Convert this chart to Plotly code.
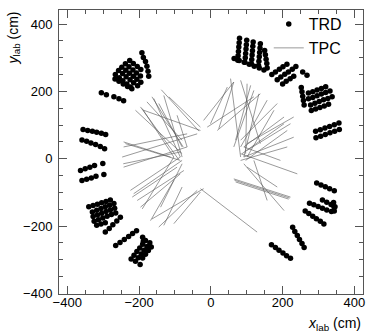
import plotly.graph_objects as go

# TRD hits (cm), grouped by cluster
trd_x = [
    # upper left
    -305, -291, -270, -256, -243,
    -266, -255, -245, -234, -224,
    -257, -246, -236, -225, -215, -204,
    -248, -237, -227, -216, -206, -195,
    -238, -228, -217, -207, -196,
    -226, -216, -205, -195,
    -267, -256, -244, -232, -220,
    -192, -188, -182, -178, -175, -173,
    # left
    -356, -343, -330, -318, -305, -293,
    -359, -346, -334, -321, -308, -296,
    -363, -350, -337, -324, -301,
    -359, -346, -333, -320, -298,
    # lower left
    -340, -328, -316, -304, -292, -280,
    -330, -318, -306, -294, -282, -270,
    -328, -316, -304, -292, -280, -268,
    -325, -313, -301, -289, -277, -265,
    -318, -306, -294,
    -294, -283, -273, -262, -252,
    -265, -253, -241, -229, -218, -207,
    -222, -214, -206, -198, -190, -182,
    -210, -202, -194, -186, -178, -170,
    -190, -182, -174, -166,
    -190, -188, -197,
    # upper right
    80, 79, 78, 77, 76, 75,
    100, 99, 98, 97, 96, 95,
    118, 117, 116, 115, 114, 113,
    138, 137, 136, 135, 134, 133,
    150, 152, 154, 156, 157,
    65, 79, 93, 107, 121, 135, 148,
    170, 180, 191, 201, 212,
    185, 195, 206, 216, 227, 237,
    200, 210, 221, 231,
    256, 268,
    # right
    252, 254, 256, 258, 260,
    272, 284, 296, 308, 320,
    272, 284, 296, 308, 320, 332,
    278, 290, 302, 314, 326, 338,
    280, 292, 304, 316, 328,
    292, 305, 318, 331, 344, 357,
    293, 306, 319, 332, 345, 358,
    # lower right
    295, 307, 319, 331, 344,
    275, 287, 299, 311, 323, 336,
    311, 323, 335, 346,
    342, 343, 344,
    263, 273, 284, 294, 305, 315,
    228, 234, 241, 247, 254, 260,
    169, 180, 190, 201, 211, 222,
]
trd_y = [
    196, 190, 184, 178, 172,
    250, 241, 232, 222, 213,
    262, 253, 244, 235, 226, 217,
    272, 263, 254, 245, 236, 227,
    282, 273, 264, 255, 246,
    292, 283, 274, 265,
    237, 230, 222, 215, 208,
    315, 301, 289, 275, 260, 245,
    87, 84, 82, 79, 76, 72,
    56, 52, 47, 42, 36, 30,
    -35, -30, -25, -20, -14,
    -65, -61, -57, -52, -47,
    -143, -139, -135, -131, -127, -123,
    -158, -153, -148, -143, -138, -133,
    -172, -167, -162, -157, -152, -147,
    -186, -181, -176, -171, -166, -161,
    -198, -194, -190,
    -218, -207, -196, -185, -174,
    -258, -249, -240, -231, -222, -214,
    -298, -287, -276, -265, -254, -243,
    -305, -294, -283, -272, -261, -250,
    -295, -284, -273, -262,
    -233, -245, -314,
    358, 345, 332, 319, 306, 293,
    352, 339, 326, 313, 300, 287,
    347, 334, 321, 308, 295, 282,
    342, 329, 316, 303, 290, 277,
    322, 309, 296, 283, 270,
    298, 292, 287, 281, 275, 270, 264,
    250, 258, 266, 273, 281,
    235, 243, 251, 258, 266, 274,
    222, 230, 238, 245,
    258, 248,
    212, 199, 186, 173, 160,
    195, 199, 204, 209, 214,
    178, 182, 187, 192, 197, 201,
    160, 165, 170, 175, 179, 184,
    143, 148, 152, 157, 162,
    82, 86, 91, 96, 101, 106,
    62, 67, 72, 77, 82, 87,
    -72, -78, -83, -89, -95,
    -132, -137, -142, -147, -152, -157,
    -123, -129, -136, -143,
    -130, -143, -155,
    -155, -163, -171, -178, -186, -194,
    -204, -216, -228, -240, -252, -264,
    -256, -264, -272, -280, -288, -296,
]

# TPC track segments: start and end points (cm)
tpc_x0 = [-138, -164, -159, -196, -191, -178, -187, -131, -210, -117, -94, -145,
          -243, -247, -243, -238, -244, -224, -215, -219, -205, -196, -168, -164,
          -145, -131, -103, -191, -140, 55, 64, 101, 111, 83, 46, -20, 120, 134,
          157, 185, 176, 204, 204, 213, 18, -10, 83, 92, 101, 83, 101, 92, 64,
          66, 69, 92, 101, 120, -29, -243]
tpc_y0 = [205, 184, 179, 154, 149, 169, 144, 188, 144, 184, 129, 164,
          50, 5, -25, 45, -15, -94, -104, -114, -124, -144, -184, -179,
          -203, -198, -193, -149, -144, 238, 228, 223, 218, 233, 213, 114, 203, 193,
          174, 164, 144, 124, 104, 84, 84, 94, 15, 5, 25, -5, 45, 35, -60,
          -64, -69, -15, -25, -5, -89, 35]
tpc_x1 = [-33, -77, -85, -89, -103, -80, -29, -80, -80, -29, -66, -80,
          -112, -38, -66, -85, -85, -85, -80, -94, -75, -85, -103, -20,
          -38, -80, -29, -103, -80, 83, 22, 97, 69, 138, -1, 64, 64, 92,
          83, 83, 101, 92, 87, 97, 138, 120, 241, 231, 222, 213, 231, 194, 222,
          220, 217, 204, 185, 157, 129, -66]
tpc_y1 = [82, 35, 5, -3, 5, 55, 84, 5, 15, 94, 35, 35,
          5, 74, 35, -5, 20, 5, -5, -25, -35, -45, -64, -89,
          -94, -84, -99, 5, -15, 5, 89, 15, 55, 45, 104, 228, 35, 5,
          35, 55, 5, 35, 15, -5, 193, 184, -45, 64, 104, 35, 124, -5, -114,
          -117, -120, -154, -84, -124, -218, 74]

seg_x, seg_y = [], []
for a, b, c, d in zip(tpc_x0, tpc_y0, tpc_x1, tpc_y1):
    seg_x += [a, c, None]
    seg_y += [b, d, None]

fig = go.Figure()
fig.add_trace(go.Scatter(x=trd_x, y=trd_y, mode='markers', name='TRD',
                         marker=dict(color='black', size=5.5)))
fig.add_trace(go.Scatter(x=seg_x, y=seg_y, mode='lines', name='TPC',
                         line=dict(color='#555555', width=0.6)))

axis = dict(showgrid=False, zeroline=False, showline=True, mirror='ticks',
            linecolor='#555555', linewidth=1, ticks='inside', ticklen=8,
            tickcolor='#555555', dtick=200, automargin=False,
            minor=dict(ticks='inside', ticklen=4, dtick=50, tickcolor='#555555'),
            tickfont=dict(size=13, color='black'))

fig.update_layout(
    width=374, height=336,
    margin=dict(l=59, r=11, t=10, b=42, autoexpand=False),
    plot_bgcolor='white', paper_bgcolor='white',
    font=dict(family='Liberation Sans, Arial, sans-serif', color='black'),
    xaxis=dict(range=[-423, 424], tickvals=[-400, -200, 0, 200, 400],
               ticklabelstandoff=-4, **axis),
    yaxis=dict(range=[-402, 442], tickvals=[-400, -200, 0, 200, 400],
               ticklabelstandoff=3, **axis),
    legend=dict(x=0.69, y=1.01, xanchor='left', yanchor='top',
                bgcolor='rgba(0,0,0,0)', font=dict(size=16),
                itemwidth=30, tracegroupgap=0),
    annotations=[
        dict(text='<i>x</i><sub>lab</sub> (cm)', xref='paper', yref='paper',
             x=1, y=0, xanchor='right', yanchor='top', yshift=-19,
             showarrow=False, font=dict(size=14)),
        dict(text='<i>y</i><sub>lab</sub> (cm)', xref='paper', yref='paper',
             x=0, y=1, xanchor='center', yanchor='top', xshift=-46,
             textangle=-90, showarrow=False, font=dict(size=14)),
    ],
)

# drop the default page margin so the figure sits at the window's corner
fig.write_html('out.html', config={'displayModeBar': False},
               post_script="document.body.style.margin='0';")
